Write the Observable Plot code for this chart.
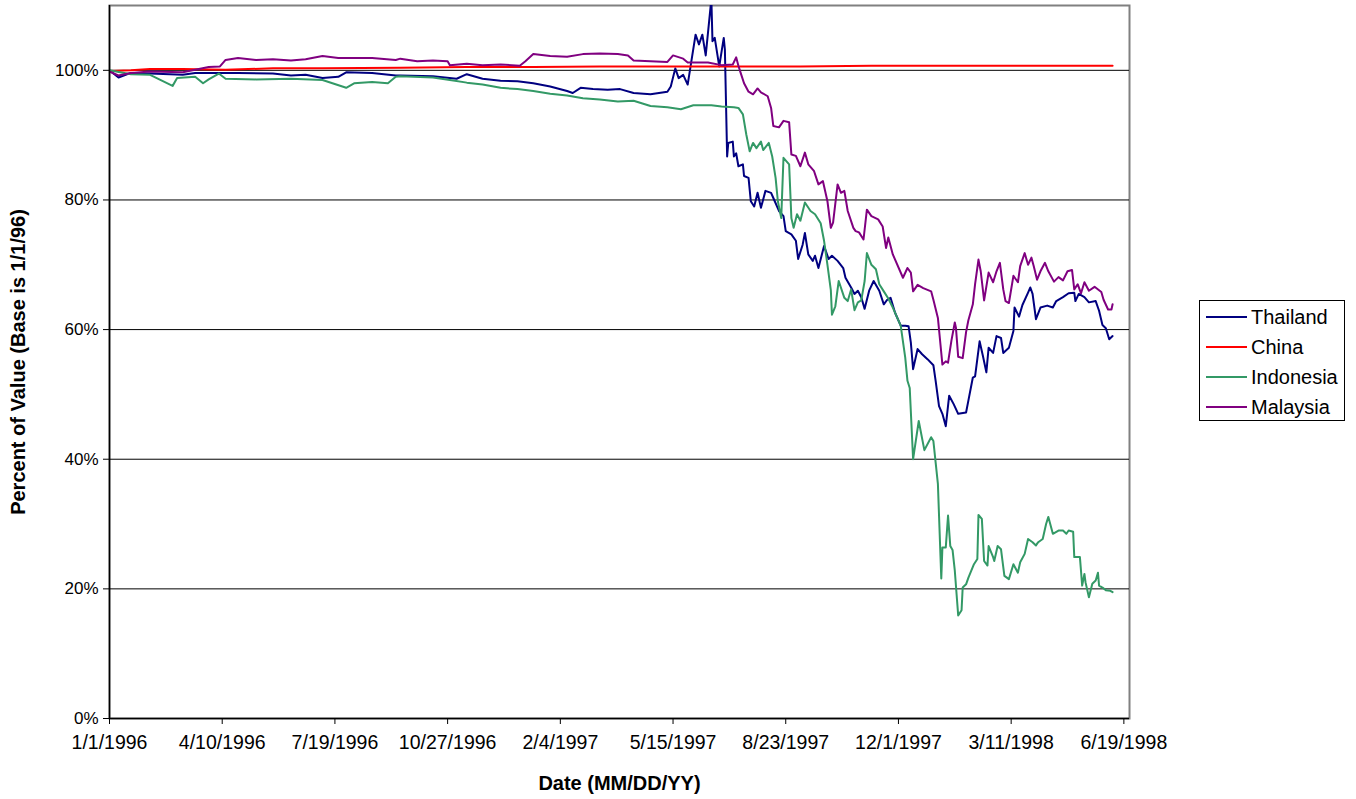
<!DOCTYPE html>
<html>
<head>
<meta charset="utf-8">
<script src="https://cdn.jsdelivr.net/npm/d3@7"></script>
<script src="https://cdn.jsdelivr.net/npm/@observablehq/plot@0.6"></script>
<style>
  html, body { margin: 0; padding: 0; background: #fff; }
  body { width: 1356px; height: 799px; position: relative; overflow: hidden; font-family: "Liberation Sans", Arial, sans-serif; }
  #legend { position: absolute; left: 1199px; top: 300px; width: 144px; height: 119px; border: 1px solid #000; background: #fff; }
  #legend .row { position: absolute; left: 6px; height: 30px; display: flex; align-items: center; font-size: 20px; color: #000; }
  #legend .sw { width: 41px; height: 2px; margin-right: 4px; }
</style>
</head>
<body>
<div id="chart"></div>
<div id="legend"></div>
<script>
// ---------------- DATA (values in percent of 1/1/96 value) ----------------
const seriesNames = ["Thailand", "China", "Indonesia", "Malaysia"];
const seriesColors = ["#000080", "#FF0000", "#339966", "#800080"];

const tickLabels = ["1/1/1996", "4/10/1996", "7/19/1996", "10/27/1996", "2/4/1997",
  "5/15/1997", "8/23/1997", "12/1/1997", "3/11/1998", "6/19/1998"];
const yTicks = [0, 20, 40, 60, 80, 100];

const thailand = [
  ["1996-01-01",100],["1996-01-09",98.9],["1996-01-20",99.6],["1996-02-06",99.5],["1996-03-06",99.3],
  ["1996-03-17",99.6],["1996-04-24",99.6],["1996-05-25",99.5],["1996-06-10",99.2],["1996-06-23",99.3],
  ["1996-07-08",98.8],["1996-07-22",99.0],["1996-07-29",99.7],["1996-08-21",99.6],["1996-09-11",99.2],
  ["1996-09-15",99.2],["1996-10-14",99.1],["1996-11-04",98.7],["1996-11-13",99.4],["1996-11-27",98.7],
  ["1996-12-13",98.4],["1996-12-28",98.3],["1997-01-11",98.0],["1997-01-26",97.5],["1997-02-10",96.8],
  ["1997-02-15",96.5],["1997-02-22",97.3],["1997-03-05",97.1],["1997-03-18",97.0],["1997-03-29",97.1],
  ["1997-04-10",96.5],["1997-04-25",96.3],["1997-05-10",96.7],["1997-05-13",97.5],["1997-05-17",100.3],
  ["1997-05-20",98.8],["1997-05-24",99.3],["1997-05-28",97.8],["1997-05-31",101.1],["1997-06-04",105.5],
  ["1997-06-07",104.0],["1997-06-10",105.5],["1997-06-13",102.3],["1997-06-16",107.5],["1997-06-18",111.0],
  ["1997-06-19",104.5],["1997-06-21",105.0],["1997-06-25",100.6],["1997-06-29",105.0],["1997-06-30",103.2],
  ["1997-07-02",86.7],["1997-07-03",88.8],["1997-07-07",89.0],["1997-07-08",86.7],["1997-07-10",87.2],
  ["1997-07-12",85.2],["1997-07-16",85.5],["1997-07-17",83.7],["1997-07-21",83.4],["1997-07-23",79.8],
  ["1997-07-26",79.0],["1997-07-29",81.1],["1997-08-01",78.8],["1997-08-05",81.4],["1997-08-10",81.1],
  ["1997-08-12",80.3],["1997-08-17",78.3],["1997-08-21",77.5],["1997-08-23",75.2],["1997-08-28",74.7],
  ["1997-09-01",73.7],["1997-09-03",70.9],["1997-09-07",73.1],["1997-09-09",74.9],["1997-09-12",71.6],
  ["1997-09-16",70.6],["1997-09-18",71.4],["1997-09-21",69.5],["1997-09-26",72.9],["1997-09-30",70.9],
  ["1997-10-03",71.4],["1997-10-08",70.6],["1997-10-13",69.5],["1997-10-15",68.0],["1997-10-20",66.5],
  ["1997-10-23",65.5],["1997-10-26",66.0],["1997-10-29",65.0],["1997-11-01",63.2],["1997-11-05",66.0],
  ["1997-11-09",67.5],["1997-11-14",66.0],["1997-11-18",63.9],["1997-11-21",64.6],["1997-11-24",64.9],
  ["1997-11-28",62.6],["1997-12-03",60.6],["1997-12-07",60.6],["1997-12-10",60.5],["1997-12-12",58.0],
  ["1997-12-14",53.9],["1997-12-18",57.0],["1997-12-22",56.2],["1997-12-27",55.4],["1998-01-01",54.5],
  ["1998-01-03",52.1],["1998-01-06",48.2],["1998-01-09",47.0],["1998-01-12",45.1],["1998-01-15",49.8],
  ["1998-01-19",48.5],["1998-01-23",47.0],["1998-01-30",47.2],["1998-02-01",49.0],["1998-02-05",52.6],
  ["1998-02-07",52.8],["1998-02-11",58.2],["1998-02-14",55.9],["1998-02-17",53.4],["1998-02-19",57.2],
  ["1998-02-23",56.4],["1998-02-26",59.0],["1998-03-02",58.7],["1998-03-04",56.4],["1998-03-09",57.2],
  ["1998-03-13",59.8],["1998-03-14",63.4],["1998-03-18",62.0],["1998-03-21",63.8],["1998-03-26",65.7],
  ["1998-03-28",66.5],["1998-03-30",65.5],["1998-04-02",61.6],["1998-04-06",63.4],["1998-04-12",63.7],
  ["1998-04-17",63.4],["1998-04-20",64.4],["1998-04-26",65.0],["1998-05-01",65.6],["1998-05-06",65.7],
  ["1998-05-07",64.4],["1998-05-10",65.5],["1998-05-15",65.0],["1998-05-19",64.2],["1998-05-25",64.4],
  ["1998-05-28",62.9],["1998-05-31",60.7],["1998-06-03",60.2],["1998-06-06",58.5],["1998-06-09",59.0]
];

const china = [
  ["1996-01-01",99.9],["1996-01-20",100.0],["1996-02-06",100.2],["1996-03-06",100.2],["1996-04-13",100.1],
  ["1996-05-25",100.3],["1996-07-08",100.3],["1996-09-15",100.4],["1996-11-13",100.5],["1997-01-11",100.5],
  ["1997-03-11",100.6],["1997-05-10",100.6],["1997-07-08",100.6],["1997-09-05",100.6],["1997-11-07",100.7],
  ["1998-01-06",100.7],["1998-03-09",100.7],["1998-06-09",100.7]
];

const indonesia = [
  ["1996-01-01",100],["1996-01-20",99.4],["1996-02-06",99.3],["1996-02-26",97.6],["1996-03-01",98.8],
  ["1996-03-17",99.0],["1996-03-24",98.0],["1996-03-29",98.6],["1996-04-07",99.5],["1996-04-13",98.7],
  ["1996-05-10",98.6],["1996-06-10",98.7],["1996-07-08",98.5],["1996-07-29",97.3],["1996-08-05",98.0],
  ["1996-08-21",98.2],["1996-09-04",98.0],["1996-09-11",99.0],["1996-09-15",99.1],["1996-10-14",98.9],
  ["1996-10-29",98.5],["1996-11-13",98.1],["1996-11-27",97.8],["1996-12-13",97.3],["1996-12-28",97.1],
  ["1997-01-11",96.8],["1997-01-26",96.4],["1997-02-10",96.1],["1997-02-24",95.7],["1997-03-11",95.5],
  ["1997-03-27",95.2],["1997-04-10",95.3],["1997-04-25",94.5],["1997-05-10",94.3],["1997-05-22",94.0],
  ["1997-06-02",94.6],["1997-06-09",94.6],["1997-06-18",94.6],["1997-06-27",94.4],["1997-07-08",94.3],
  ["1997-07-12",94.2],["1997-07-16",93.2],["1997-07-19",90.1],["1997-07-22",87.5],["1997-07-25",88.8],
  ["1997-07-28",88.0],["1997-08-01",89.0],["1997-08-03",87.7],["1997-08-08",88.8],["1997-08-11",86.7],
  ["1997-08-14",83.4],["1997-08-16",79.8],["1997-08-19",77.2],["1997-08-21",86.5],["1997-08-26",85.5],
  ["1997-08-28",77.2],["1997-08-30",75.7],["1997-09-02",77.8],["1997-09-05",76.8],["1997-09-09",79.6],
  ["1997-09-14",78.3],["1997-09-18",77.8],["1997-09-23",76.4],["1997-09-26",73.7],["1997-09-29",70.0],
  ["1997-10-02",66.1],["1997-10-03",62.3],["1997-10-06",63.6],["1997-10-09",67.5],["1997-10-14",64.9],
  ["1997-10-17",64.4],["1997-10-20",66.2],["1997-10-23",63.0],["1997-10-26",64.2],["1997-10-29",64.5],
  ["1997-11-01",67.5],["1997-11-03",71.8],["1997-11-07",70.0],["1997-11-11",69.3],["1997-11-14",67.0],
  ["1997-11-18",65.9],["1997-11-22",64.8],["1997-11-26",63.4],["1997-12-03",60.6],["1997-12-07",55.7],
  ["1997-12-09",52.1],["1997-12-11",51.0],["1997-12-14",40.0],["1997-12-19",45.9],["1997-12-24",41.4],
  ["1997-12-30",43.4],["1998-01-01",42.8],["1998-01-05",36.2],["1998-01-08",21.6],["1998-01-09",26.4],
  ["1998-01-12",26.4],["1998-01-14",31.3],["1998-01-16",26.6],["1998-01-18",26.0],["1998-01-20",22.8],
  ["1998-01-22",18.2],["1998-01-23",15.9],["1998-01-26",16.7],["1998-01-27",20.2],["1998-01-30",20.7],
  ["1998-02-01",21.7],["1998-02-06",23.8],["1998-02-09",24.6],["1998-02-10",31.4],["1998-02-13",30.8],
  ["1998-02-15",24.3],["1998-02-18",23.6],["1998-02-19",26.6],["1998-02-23",24.9],["1998-02-24",24.3],
  ["1998-02-27",26.6],["1998-03-02",26.1],["1998-03-05",22.0],["1998-03-09",21.5],["1998-03-13",23.8],
  ["1998-03-17",22.5],["1998-03-19",24.1],["1998-03-23",25.4],["1998-03-26",27.7],["1998-03-30",27.2],
  ["1998-04-02",26.7],["1998-04-04",27.2],["1998-04-08",27.7],["1998-04-11",30.0],["1998-04-13",31.1],
  ["1998-04-17",28.5],["1998-04-22",29.0],["1998-04-26",29.0],["1998-04-29",28.5],["1998-05-01",29.0],
  ["1998-05-05",28.8],["1998-05-06",24.9],["1998-05-09",24.9],["1998-05-11",24.9],["1998-05-13",20.5],
  ["1998-05-15",22.3],["1998-05-16",21.0],["1998-05-19",18.7],["1998-05-22",20.8],["1998-05-25",21.3],
  ["1998-05-27",22.5],["1998-05-28",20.5],["1998-05-31",20.2],["1998-06-03",19.8],["1998-06-07",19.7],
  ["1998-06-09",19.5]
];

const malaysia = [
  ["1996-01-01",99.8],["1996-01-09",99.2],["1996-01-20",99.6],["1996-02-06",99.8],["1996-03-06",99.7],
  ["1996-03-29",100.5],["1996-04-08",100.6],["1996-04-13",101.6],["1996-04-24",101.9],["1996-05-10",101.6],
  ["1996-05-25",101.7],["1996-06-10",101.5],["1996-06-23",101.7],["1996-07-08",102.2],["1996-07-22",101.9],
  ["1996-08-21",101.9],["1996-09-11",101.6],["1996-09-15",101.8],["1996-09-30",101.4],["1996-10-14",101.5],
  ["1996-10-27",101.4],["1996-10-29",100.8],["1996-11-13",101.0],["1996-11-27",100.8],["1996-12-13",100.9],
  ["1996-12-30",100.7],["1997-01-04",101.4],["1997-01-11",102.5],["1997-01-26",102.2],["1997-02-10",102.1],
  ["1997-02-24",102.5],["1997-03-11",102.6],["1997-03-27",102.5],["1997-04-05",102.3],["1997-04-10",101.5],
  ["1997-04-25",101.4],["1997-05-10",101.3],["1997-05-15",102.3],["1997-05-24",101.8],["1997-05-28",101.2],
  ["1997-06-09",101.2],["1997-06-15",101.2],["1997-06-27",100.8],["1997-07-07",100.9],["1997-07-10",102.0],
  ["1997-07-12",100.7],["1997-07-14",99.6],["1997-07-17",98.0],["1997-07-21",96.7],["1997-07-25",96.3],
  ["1997-07-29",97.2],["1997-08-01",96.6],["1997-08-07",96.0],["1997-08-10",94.2],["1997-08-12",91.4],
  ["1997-08-17",91.2],["1997-08-21",92.2],["1997-08-26",92.0],["1997-08-28",87.0],["1997-09-01",86.8],
  ["1997-09-05",85.2],["1997-09-09",87.3],["1997-09-12",85.5],["1997-09-17",84.5],["1997-09-21",82.4],
  ["1997-09-25",82.9],["1997-09-29",79.8],["1997-10-02",75.7],["1997-10-04",76.5],["1997-10-08",82.4],
  ["1997-10-11",81.1],["1997-10-14",81.4],["1997-10-17",78.3],["1997-10-22",75.7],["1997-10-24",75.2],
  ["1997-10-27",75.0],["1997-10-31",73.9],["1997-11-03",78.5],["1997-11-07",77.5],["1997-11-13",77.0],
  ["1997-11-17",75.9],["1997-11-20",72.6],["1997-11-22",74.2],["1997-11-26",71.6],["1997-12-05",68.0],
  ["1997-12-09",69.5],["1997-12-12",68.8],["1997-12-14",65.9],["1997-12-18",66.9],["1997-12-23",66.4],
  ["1997-12-30",65.9],["1998-01-01",64.6],["1998-01-05",61.8],["1998-01-07",58.2],["1998-01-09",54.6],
  ["1998-01-12",55.1],["1998-01-14",54.9],["1998-01-17",58.3],["1998-01-20",61.1],["1998-01-21",60.3],
  ["1998-01-23",55.8],["1998-01-27",55.6],["1998-01-30",59.6],["1998-02-01",61.4],["1998-02-05",63.9],
  ["1998-02-07",67.0],["1998-02-10",70.8],["1998-02-12",69.0],["1998-02-15",64.5],["1998-02-19",68.8],
  ["1998-02-23",67.3],["1998-02-26",69.0],["1998-03-01",70.3],["1998-03-04",66.2],["1998-03-06",64.4],
  ["1998-03-09",64.1],["1998-03-13",68.3],["1998-03-17",67.3],["1998-03-19",69.8],["1998-03-23",71.8],
  ["1998-03-26",70.0],["1998-03-29",71.1],["1998-03-31",69.8],["1998-04-03",67.7],["1998-04-06",69.0],
  ["1998-04-10",70.3],["1998-04-13",69.0],["1998-04-18",67.4],["1998-04-22",68.1],["1998-04-26",67.6],
  ["1998-04-30",69.0],["1998-05-04",69.2],["1998-05-06",66.2],["1998-05-09",67.0],["1998-05-12",65.6],
  ["1998-05-15",67.3],["1998-05-19",66.0],["1998-05-24",66.6],["1998-05-30",65.8],["1998-06-01",64.6],
  ["1998-06-05",63.1],["1998-06-08",63.1],["1998-06-09",63.9]
];

const xDomain = ["1996-01-01", "1998-06-24"];
// ---------------------------------------------------------------------------

const parseISO = d3.utcParse("%Y-%m-%d");
const parseTick = d3.utcParse("%m/%d/%Y");
const fmtTick = d3.utcFormat("%-m/%-d/%Y");

const rawSeries = [thailand, china, indonesia, malaysia];
const rows = [];
rawSeries.forEach((s, k) => s.forEach(([d, v]) => rows.push({date: parseISO(d), value: v, country: seriesNames[k]})));

const tickDates = tickLabels.map(parseTick);
const font = '"Liberation Sans", Arial, sans-serif';

const chart = Plot.plot({
  width: 1356,
  height: 799,
  marginLeft: 109,
  marginRight: 227,
  marginTop: 5,
  marginBottom: 81,
  style: {fontFamily: font, fontSize: "16px", color: "#000", background: "#fff"},
  x: {type: "utc", domain: xDomain.map(parseISO)},
  y: {domain: [0, 110]},
  color: {domain: seriesNames, range: seriesColors},
  marks: [
    Plot.frame({stroke: "#808080", strokeWidth: 2}),
    Plot.ruleY(yTicks.filter(d => d > 0), {stroke: "#000", strokeWidth: 1}),
    Plot.lineY(rows, {x: "date", y: "value", z: "country", stroke: "country", strokeWidth: 2, clip: true}),
    Plot.ruleY([0], {stroke: "#000", strokeWidth: 1.5}),
    Plot.ruleX([parseISO(xDomain[0])], {stroke: "#000", strokeWidth: 1.5}),
    Plot.axisX({ticks: tickDates, tickFormat: fmtTick, tickSize: 6, tickPadding: 11, fontSize: 19.5, label: null, stroke: "#000"}),
    Plot.axisY({ticks: yTicks, tickFormat: d => d + "%", tickSize: 6, tickPadding: 5, fontSize: 17, label: null}),
    Plot.text(["Date (MM/DD/YY)"], {frameAnchor: "bottom", dy: 71, fontWeight: "bold", fontSize: 20, fill: "#000"}),
    Plot.text(["Percent of Value (Base is 1/1/96)"], {frameAnchor: "left", dx: -91, rotate: -90, textAnchor: "middle", fontWeight: "bold", fontSize: 20, fill: "#000"})
  ]
});
document.getElementById("chart").appendChild(chart);

// Legend
const legend = document.getElementById("legend");
seriesNames.forEach((name, i) => {
  const row = document.createElement("div");
  row.className = "row";
  row.style.top = (1 + i * 30) + "px";
  const sw = document.createElement("div");
  sw.className = "sw";
  sw.style.background = seriesColors[i];
  const label = document.createElement("span");
  label.textContent = name;
  row.appendChild(sw);
  row.appendChild(label);
  legend.appendChild(row);
});
</script>
</body>
</html>
